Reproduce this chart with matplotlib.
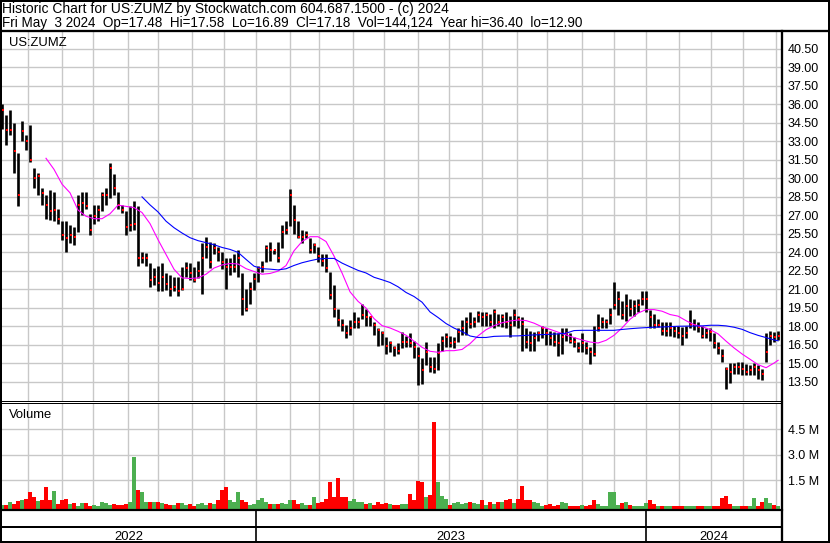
import numpy as np
import matplotlib
matplotlib.use("Agg")
import matplotlib.pyplot as plt
from matplotlib.ticker import FuncFormatter

plt.rcParams['font.family'] = ['Liberation Sans', 'DejaVu Sans']

# ---------------- data ----------------
header1 = "Historic Chart for US:ZUMZ by Stockwatch.com 604.687.1500 - (c) 2024"
header2 = ("Fri May  3 2024  Op=17.48  Hi=17.58  Lo=16.89  Cl=17.18  "
           "Vol=144,124  Year hi=36.40  lo=12.90")
symbol = "US:ZUMZ"

high = [
    36.0, 35.1, 35.5, 34.5, 32.0, 34.6, 33.5, 34.3, 30.8, 30.4,
    29.2, 28.6, 29.0, 28.9, 27.5, 26.5, 26.5, 26.2, 26.0, 28.6,
    28.9, 28.9, 27.1, 27.8, 27.8, 28.9, 29.2, 31.2, 30.3, 28.9,
    27.8, 27.3, 27.7, 28.1, 27.7, 24.0, 23.9, 23.1, 22.7, 22.9,
    23.1, 22.3, 22.1, 22.0, 22.0, 22.8, 23.2, 23.1, 22.8, 23.3,
    24.7, 25.2, 24.8, 24.7, 24.4, 24.0, 23.5, 23.5, 23.8, 24.2,
    22.3, 21.0, 21.6, 22.3, 22.9, 23.3, 24.6, 24.8, 24.2, 24.8,
    26.2, 26.5, 29.1, 27.8, 26.5, 25.8, 25.7, 25.1, 24.7, 24.4,
    23.8, 23.8, 22.4, 21.3, 19.4, 18.6, 18.1, 18.5, 19.1, 18.7,
    19.8, 19.4, 18.8, 18.3, 17.8, 17.6, 17.1, 16.8, 16.4, 16.6,
    17.5, 17.2, 17.4, 16.8, 16.3, 15.4, 16.7, 15.5, 15.5, 16.6,
    17.2, 17.4, 17.2, 17.1, 17.8, 18.5, 18.7, 19.1, 18.7, 19.2,
    19.1, 19.1, 19.0, 19.4, 19.0, 19.0, 19.1, 18.8, 19.4, 18.8,
    18.7, 17.8, 17.6, 17.5, 17.6, 18.0, 17.8, 17.6, 17.5, 17.4,
    17.8, 17.8, 17.4, 17.1, 16.7, 17.4, 16.7, 16.3, 18.0, 19.0,
    18.7, 18.6, 19.5, 21.6, 20.8, 20.0, 20.6, 20.2, 20.1, 20.2,
    20.8, 20.8, 19.3, 19.0, 18.6, 18.3, 18.3, 18.3, 18.0, 18.0,
    17.9, 18.0, 19.3, 18.6, 18.3, 18.0, 17.8, 17.8, 17.4, 16.7,
    16.1, 14.7, 15.0, 15.0, 15.1, 15.1, 14.9, 14.8, 15.0, 14.8,
    14.5, 17.4, 17.6, 17.5, 17.58,
]

low = [
    34.0, 32.7, 33.5, 30.4, 27.7, 33.0, 32.3, 31.3, 29.2, 28.6,
    27.8, 26.7, 26.6, 26.5, 26.3, 25.0, 24.0, 24.7, 24.6, 25.6,
    27.0, 27.5, 25.4, 26.3, 26.5, 27.3, 27.8, 28.4, 28.6, 27.5,
    27.2, 25.4, 25.7, 25.8, 22.9, 23.1, 22.9, 21.2, 21.3, 20.8,
    20.8, 20.9, 20.4, 20.8, 20.4, 20.9, 22.0, 21.7, 21.6, 21.9,
    20.6, 23.5, 22.7, 23.8, 23.3, 22.6, 21.0, 22.1, 22.4, 22.0,
    18.9, 19.2, 19.8, 20.9, 21.6, 22.4, 23.2, 23.3, 23.8, 23.2,
    24.3, 25.5, 26.1, 25.5, 25.1, 24.7, 25.1, 23.9, 23.9, 23.2,
    22.9, 22.4, 20.2, 18.7, 18.0, 17.6, 17.0, 17.3, 17.8, 17.8,
    18.6, 18.0, 18.0, 17.3, 16.4, 16.5, 15.7, 15.9, 15.6, 15.7,
    16.2, 16.3, 16.3, 15.4, 13.2, 13.3, 14.8, 14.3, 14.2, 14.4,
    16.0, 16.3, 16.3, 16.2, 16.7, 17.3, 17.3, 17.8, 17.9, 18.3,
    18.0, 18.0, 18.0, 17.8, 18.0, 17.9, 17.8, 17.1, 18.0, 17.8,
    16.0, 16.2, 16.0, 16.0, 16.8, 17.0, 16.5, 16.5, 16.4, 15.6,
    15.7, 16.8, 16.6, 16.3, 15.9, 15.9, 15.7, 14.9, 15.6, 17.6,
    17.8, 17.8, 18.2, 19.4, 18.9, 18.6, 18.4, 18.8, 18.8, 19.1,
    19.7, 19.1, 17.8, 17.8, 17.9, 17.3, 17.2, 17.2, 17.1, 17.0,
    16.5, 17.0, 17.8, 17.7, 17.5, 17.0, 17.0, 16.8, 16.2, 15.7,
    15.1, 12.9, 13.4, 14.1, 14.1, 14.0, 14.0, 14.0, 14.0, 13.7,
    13.6, 15.1, 16.5, 16.7, 16.89,
]

close = [
    35.5, 33.9, 33.9, 32.2, 28.6, 33.8, 33.0, 31.5, 30.0, 30.2,
    28.8, 27.8, 27.3, 27.4, 26.7, 25.4, 25.1, 25.4, 25.2, 27.8,
    28.0, 27.7, 25.8, 26.9, 27.4, 28.6, 28.6, 30.8, 29.2, 27.8,
    27.4, 26.0, 26.2, 26.3, 23.5, 23.5, 23.5, 21.7, 22.0, 21.5,
    22.0, 21.4, 21.0, 21.2, 20.8, 21.0, 22.7, 22.3, 21.7, 22.5,
    23.5, 24.4, 23.2, 24.3, 24.0, 23.2, 22.8, 22.8, 22.8, 23.5,
    20.2, 19.4, 21.0, 21.8, 22.7, 22.8, 24.3, 24.2, 24.2, 23.5,
    25.6, 25.8, 28.6, 26.6, 25.2, 25.2, 25.4, 24.2, 24.6, 23.7,
    23.3, 22.7, 20.5, 19.4, 18.5, 18.1, 17.4, 17.8, 18.3, 18.3,
    18.9, 18.7, 18.7, 18.1, 17.7, 17.4, 16.4, 16.6, 16.2, 16.0,
    16.7, 16.7, 16.6, 16.3, 15.6, 14.4, 15.9, 14.7, 14.5, 15.8,
    16.8, 17.1, 16.6, 16.7, 17.5, 17.8, 18.3, 18.2, 18.3, 18.9,
    18.7, 18.9, 18.3, 19.1, 18.3, 18.7, 18.3, 18.1, 18.9, 18.6,
    18.2, 16.7, 16.6, 17.0, 17.4, 17.8, 17.4, 17.0, 16.7, 16.6,
    17.1, 17.4, 16.8, 16.7, 16.2, 16.6, 16.2, 15.9, 15.7, 17.8,
    18.3, 18.3, 18.9, 19.7, 20.2, 18.9, 19.6, 19.4, 19.6, 19.7,
    20.2, 20.2, 18.7, 18.1, 18.1, 17.6, 17.6, 17.8, 17.6, 17.4,
    17.2, 17.4, 18.1, 18.1, 17.9, 17.2, 17.4, 17.5, 16.6, 16.2,
    15.6, 14.5, 14.3, 14.7, 14.7, 14.5, 14.3, 14.4, 14.7, 14.4,
    14.1, 15.9, 17.2, 17.1, 17.18,
]

# volume in millions of shares
volume_m = [
    0.29, 0.27, 0.43, 0.33, 0.49, 0.53, 0.59, 1.05, 0.72, 0.49,
    0.55, 1.35, 0.53, 1.11, 0.33, 0.53, 0.59, 0.33, 0.39, 0.23,
    0.37, 0.39, 0.23, 0.29, 0.23, 0.43, 0.39, 0.29, 0.33, 0.27,
    0.29, 0.33, 0.47, 3.07, 1.15, 1.02, 0.43, 0.47, 0.43, 0.47,
    0.39, 0.33, 0.27, 0.29, 0.39, 0.39, 0.27, 0.33, 0.23, 0.33,
    0.37, 0.29, 0.37, 0.33, 0.53, 1.17, 1.31, 0.57, 0.43, 1.05,
    0.57, 0.43, 0.29, 0.33, 0.53, 0.66, 0.43, 0.33, 0.33, 0.33,
    0.39, 0.33, 0.53, 0.53, 0.33, 0.39, 0.29, 0.29, 0.72, 0.39,
    0.47, 0.62, 1.60, 0.72, 1.86, 0.72, 0.72, 0.49, 0.62, 0.43,
    0.47, 0.33, 0.39, 0.29, 0.47, 0.33, 0.39, 0.33, 0.27, 0.27,
    0.33, 0.33, 0.92, 0.53, 1.66, 1.60, 0.76, 0.86, 5.12, 1.60,
    0.82, 0.62, 0.27, 0.37, 0.47, 0.33, 0.39, 0.47, 0.37, 0.33,
    0.53, 0.27, 0.47, 0.33, 0.43, 0.47, 0.53, 0.62, 0.37, 0.62,
    1.41, 0.57, 0.57, 0.43, 0.37, 0.23, 0.29, 0.33, 0.23, 0.27,
    0.43, 0.37, 0.23, 0.23, 0.23, 0.29, 0.23, 0.29, 0.53, 0.33,
    0.23, 0.23, 1.02, 1.02, 0.27, 0.37, 0.47, 0.29, 0.23, 0.20,
    0.23, 0.37, 0.53, 0.33, 0.23, 0.20, 0.20, 0.20, 0.23, 0.20,
    0.23, 0.23, 0.20, 0.23, 0.20, 0.20, 0.23, 0.23, 0.23, 0.23,
    0.68, 0.82, 0.33, 0.23, 0.20, 0.20, 0.23, 0.20, 0.66, 0.23,
    0.47, 0.66, 0.39, 0.27, 0.20,
]

# moving averages (values every second bar)
ma_short_first = 11
ma_short = [
    31.6, 30.7, 29.5, 28.8, 27.4, 26.9, 26.7, 26.7, 27.1, 27.8,
    27.7, 27.6, 27.2, 26.3, 25.0, 23.8, 22.6, 21.9, 21.85, 21.9,
    22.2, 22.7, 22.95, 23.07, 23.03, 22.65, 22.42, 22.2, 22.26, 22.45,
    22.9, 24.1, 24.85, 25.24, 25.24, 24.85, 23.67, 22.3, 20.77, 20.0,
    19.45, 18.6, 18.03, 17.84, 17.57, 17.25, 16.77, 16.27, 15.95, 15.87,
    16.0, 16.0, 16.1, 16.57, 17.2, 17.7, 18.03, 18.26, 18.41, 18.48,
    18.44, 18.23, 17.93, 17.73, 17.5, 17.28, 17.06, 16.87, 16.7, 16.62,
    16.84, 17.25, 17.85, 18.55, 19.05, 19.33, 19.33, 19.2, 18.93, 18.8,
    18.43, 18.1, 17.95, 17.71, 17.36, 16.77, 16.22, 15.73, 15.3, 14.86,
    14.62, 15.0, 15.22,
]
ma_long_first = 35
ma_long = [
    28.47, 27.82, 27.25, 26.5, 25.97, 25.54, 25.16, 24.92, 24.76, 24.59,
    24.37, 24.21, 23.97, 23.40, 22.85, 22.65, 22.61, 22.55, 22.64, 22.91,
    23.13, 23.29, 23.43, 23.48, 23.48, 23.1, 22.8, 22.51, 22.3, 21.95,
    21.75, 21.53, 21.18, 20.72, 20.39, 19.93, 19.14, 18.69, 18.2, 17.83,
    17.55, 17.19, 17.07, 17.07, 17.16, 17.18, 17.19, 17.2, 17.24, 17.28,
    17.3, 17.33, 17.36, 17.42, 17.63, 17.65, 17.65, 17.65, 17.65, 17.65,
    17.72, 17.78, 17.83, 17.87, 17.9, 17.92, 17.95, 17.98, 17.99, 18.0,
    18.01, 18.06, 18.06, 18.01, 17.9, 17.73, 17.46, 17.24, 17.06, 16.87,
    16.8,
]

price_ticks = [13.5, 15.0, 16.5, 18.0, 19.5, 21.0, 22.5, 24.0, 25.5, 27.0,
               28.5, 30.0, 31.5, 33.0, 34.5, 36.0, 37.5, 39.0, 40.5]
vol_ticks = [1.5, 3.0, 4.5]
# month starts and year starts on the bar-index scale
month_starts = [6.6, 14.9, 22.7, 31.4, 39.1, 47.4, 55.6, 63.4, 72.0, 79.3,
                87.7, 95.5, 104.1, 111.8, 120.1, 128.7, 136.2, 144.9, 153.1,
                160.9, 169.3, 177.3, 185.2, 193.4]
year_names = ["2022", "2023", "2024"]
year_starts = [63.4, 160.9]

# ---------------- layout ----------------
W, H = 830, 543
X_LO, X_HI = -0.125, 194.9
P_LO, P_HI = 11.96, 41.96
V_LO, V_HI = -0.23, 6.04
GRID = '#C8C8C8'
FS = 9


def rect(x0, y0, x1, y1):
    return [x0 / W, 1 - y1 / H, (x1 - x0) / W, (y1 - y0) / H]


fig = plt.figure(figsize=(W / 100, H / 100), dpi=100)
fig.patch.set_facecolor('white')

x = np.arange(len(close))

# ---- price panel ----
ax = fig.add_axes(rect(1.5, 30.5, 781.7, 400.5))
ax.set_xlim(X_LO, X_HI)
ax.set_ylim(P_LO, P_HI)
for s in ax.spines.values():
    s.set_visible(False)
ax.set_axisbelow(True)
ax.set_xticks(month_starts)
ax.set_xticklabels([])
ax.yaxis.tick_right()
ax.set_yticks(price_ticks)
ax.yaxis.set_major_formatter(FuncFormatter(lambda v, p: f"{v:.2f}"))
ax.tick_params(axis='both', length=0)
ax.tick_params(axis='y', pad=4.2, labelsize=FS, labelcolor='black')
ax.grid(True, color=GRID, lw=1.0)

ax.vlines(x, low, high, color='black', lw=1.9, zorder=3)
ax.plot(x + 0.3, close, ls='none', marker='s', ms=2.1, mew=0,
        color='#FF0000', zorder=4)

ms_x = list(range(ma_short_first, 194, 2)) + [194]
ml_x = list(range(ma_long_first, 194, 2)) + [194]
ax.plot(ms_x, ma_short, color='#FF00FF', lw=0.8, zorder=5)
ax.plot(ml_x, ma_long, color='#0000FF', lw=0.8, zorder=5)

# ---- volume panel ----
axv = fig.add_axes(rect(1.5, 402.8, 781.7, 509.5))
axv.set_xlim(X_LO, X_HI)
axv.set_ylim(V_LO, V_HI)
for s in axv.spines.values():
    s.set_visible(False)
axv.set_axisbelow(True)
axv.set_xticks(month_starts)
axv.set_xticklabels([])
axv.yaxis.tick_right()
axv.set_yticks(vol_ticks)
axv.yaxis.set_major_formatter(FuncFormatter(lambda v, p: f"{v:.1f} M"))
axv.tick_params(axis='both', length=0)
axv.tick_params(axis='y', pad=4.2, labelsize=FS, labelcolor='black')
axv.grid(True, color=GRID, lw=1.0)

vcol = []
for i, c in enumerate(close):
    prev = close[i - 1] if i > 0 else c
    vcol.append('#4CAF50' if c >= prev else '#FF0000')
axv.bar(x, volume_m, bottom=V_LO, width=0.9, color=vcol, lw=0, zorder=3)

# ---- date strip ----
axd = fig.add_axes(rect(1.5, 510, 781.7, 542))
axd.set_xlim(X_LO, X_HI)
axd.set_ylim(0, 1)
axd.axis('off')
bounds = [X_LO] + year_starts + [X_HI]
for k, name in enumerate(year_names):
    axd.text((bounds[k] + bounds[k + 1]) / 2, 0.07, name, ha='center',
             va='baseline', fontsize=9.4)
for ys in year_starts:
    axd.axvline(ys, color='black', lw=1.2)

# ---- overlay: frame, separators and header ----
ov = fig.add_axes([0, 0, 1, 1], zorder=10)
ov.set_xlim(0, W)
ov.set_ylim(H, 0)
ov.axis('off')
ov.patch.set_alpha(0)
k = 0.72  # points per pixel
ov.plot([1, 829, 829, 1, 1], [0.8, 0.8, 541.8, 541.8, 0.8], color='black',
        lw=2 * k, solid_joinstyle='miter')
ov.plot([0, W], [30.5, 30.5], color='black', lw=2.3 * k)
ov.plot([782.2, 782.2], [30.5, 543], color='black', lw=2.3 * k)
ov.plot([0, 782], [401.0, 401.0], color='black', lw=1.0 * k)
ov.plot([0, 782], [402.8, 402.8], color='black', lw=1.0 * k)
ov.plot([0, 782], [510.0, 510.0], color='black', lw=2.2 * k)
ov.plot([0, 782], [526.6, 526.6], color='black', lw=2.0 * k)

ov.text(2, 13.3, header1, fontsize=10, va='baseline')
ov.text(2, 27.3, header2, fontsize=9.75, va='baseline')
ov.text(9.3, 45.7, symbol, fontsize=9.4, va='baseline')
ov.text(9.3, 417.7, "Volume", fontsize=9.4, va='baseline')

fig.savefig('out.png', dpi=100)
